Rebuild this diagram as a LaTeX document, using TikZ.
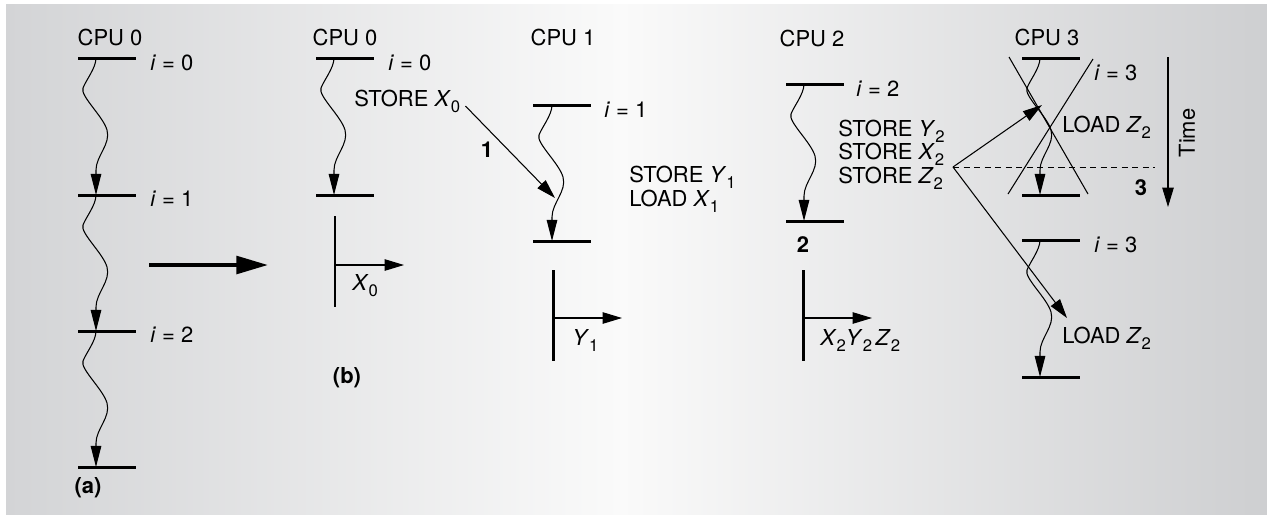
\documentclass[tikz,border=0pt]{standalone}
\usepackage{fontspec}
\setmainfont{TeX Gyre Heros}
\usetikzlibrary{arrows.meta, positioning}

\definecolor{bgedge}{RGB}{211,212,214}
\definecolor{bgmid}{RGB}{250,250,250}
\definecolor{bgright}{RGB}{206,207,209}

\newcommand{\sbs}[1]{\raisebox{-3.5pt}{\fontsize{9.5}{10}\selectfont #1}}
\newcommand{\ieq}[1]{\textit{i}\;=\;#1}

\begin{document}
\begin{tikzpicture}[x=0.02cm, y=-0.02cm,
          txt/.style={font=\fontsize{12.5}{13}\selectfont, inner sep=0pt},
          tag/.style={font=\fontsize{12.5}{13}\selectfont\bfseries, inner sep=0pt},
          bar/.style={line width=1.7pt},
          post/.style={line width=1.7pt},
          arr/.style={-{Triangle[length=11pt, width=6.5pt]}, line width=0.6pt},
          big/.style={-{Triangle[length=18pt, width=10pt]}, line width=2.2pt},
          wig/.style={-{Triangle[length=12pt, width=6pt]}, line width=0.6pt,
                      to path={(\tikztostart) .. controls +(0,10) and +(3,-8) .. ++(-13,30)
                               .. controls +(-3,8) and +(-4,-14) .. ++(24,42)
                               .. controls +(4,14) and +(0,-14) .. ++(-11,40)
                               -- (\tikztotarget)}},
        ]
          \useasboundingbox (0,0) rectangle (1267,515);
          \fill[left color=bgedge, right color=bgmid] (6,4) rectangle (621,514);
          \fill[left color=bgmid, right color=bgright] (620,4) rectangle (1267,514);

          % (a) one CPU
          \node[txt, anchor=base] (cpua) at (110,45) {CPU 0};
          \draw[bar] (78,58) -- ++(58,0);
          \draw[bar] (78,195) -- ++(58,0);
          \draw[bar] (78,331) -- ++(58,0);
          \draw[bar] (78,467) -- ++(58,0);
          \coordinate (a0) at (96,58);
          \coordinate (a1) at (96,195);
          \coordinate (a2) at (96,331);
          \coordinate (a3) at (96,467);
          \draw[wig] (a0) to (a1);
          \draw[wig] (a1) to (a2);
          \draw[wig] (a2) to (a3);
          \node[txt, anchor=base west] (ia0) at (150,70)  {\ieq{0}};
          \node[txt, anchor=base west] (ia1) at (150,206) {\ieq{1}};
          \node[txt, anchor=base west] (ia2) at (150,342) {\ieq{2}};
          \node[tag, anchor=base] (taga) at (88,493) {(a)};

          \coordinate (bs) at (149,265);
          \coordinate (be) at (268,265);
          \draw[big] (bs) -- (be);

          % (b) CPU 0
          \node[txt, anchor=base] (cpu0) at (345,45) {CPU 0};
          \draw[bar] (316,58) -- ++(58,0);
          \draw[bar] (316,195) -- ++(58,0);
          \coordinate (b0) at (334,58);
          \coordinate (b1) at (334,195);
          \draw[wig] (b0) to (b1);
          \node[txt, anchor=base west] (ib0) at (388,70) {\ieq{0}};
          \node[txt, anchor=base west] (sx0) at (354,106) {STORE \textit{X}\sbs{0}};
          \draw[post] (335,216) -- (335,307);
          \coordinate (p0) at (335,265);
          \coordinate (q0) at (404,265);
          \draw[arr] (p0) -- (q0);
          \node[txt, anchor=base west] (x0) at (352,290) {\textit{X}\sbs{0}};
          \node[tag, anchor=base] (tagb) at (347,383) {(b)};

          % CPU 1
          \node[txt, anchor=base] (cpu1) at (563,45) {CPU 1};
          \draw[bar] (533,105) -- ++(58,0);
          \draw[bar] (533,241) -- ++(58,0);
          \coordinate (c0) at (552,105);
          \coordinate (c1) at (552,241);
          \coordinate (hit1) at (555,198);
          \draw[wig] (c0) to (c1);
          \draw[arr, shorten <=4pt] (sx0.east) -- (hit1);
          \node[tag, anchor=base] (one) at (487,157) {1};
          \node[txt, anchor=base west] (i1) at (604,117) {\ieq{1}};
          \node[txt, anchor=base west] (sy1) at (629,182) {STORE \textit{Y}\sbs{1}};
          \node[txt, anchor=base west] (lx1) at (629,206) {LOAD \textit{X}\sbs{1}};
          \draw[post] (553,270) -- (553,361);
          \coordinate (p1) at (553,318);
          \coordinate (q1) at (622,318);
          \draw[arr] (p1) -- (q1);
          \node[txt, anchor=base west] (y1) at (572,345) {\textit{Y}\sbs{1}};

          % CPU 2
          \node[txt, anchor=base] (cpu2) at (812,46) {CPU 2};
          \draw[bar] (786,84) -- ++(58,0);
          \draw[bar] (786,221) -- ++(58,0);
          \coordinate (d0) at (804,84);
          \coordinate (d1) at (804,221);
          \draw[wig] (d0) to (d1);
          \node[txt, anchor=base west] (i2) at (856,96) {\ieq{2}};
          \node[txt, anchor=base west] (sy2) at (838,136) {STORE \textit{Y}\sbs{2}};
          \node[txt, anchor=base west] (sx2) at (838,159) {STORE \textit{X}\sbs{2}};
          \node[txt, anchor=base west] (sz2) at (838,183) {STORE \textit{Z}\sbs{2}};
          \node[tag, anchor=base] (two) at (803,252) {2};
          \draw[post] (803,270) -- (803,361);
          \coordinate (p2) at (803,318);
          \coordinate (q2) at (872,318);
          \draw[arr] (p2) -- (q2);
          \node[txt, anchor=base west] (xyz) at (820,345)
                {\textit{X}\sbs{2}\textit{Y}\sbs{2}\,\textit{Z}\sbs{2}};

          % CPU 3
          \node[txt, anchor=base] (cpu3) at (1047,45) {CPU 3};
          \draw[bar] (1022,58) -- ++(58,0);
          \draw[bar] (1022,195) -- ++(58,0);
          \draw[bar] (1022,240) -- ++(58,0);
          \draw[bar] (1022,377) -- ++(58,0);
          \coordinate (e0) at (1040,58);
          \coordinate (e1) at (1040,195);
          \coordinate (f0) at (1040,240);
          \coordinate (f1) at (1040,377);
          \draw[wig] (e0) to (e1);
          \draw[wig] (f0) to (f1);
          \draw[line width=0.6pt] (1009,57) -- (1088,194);
          \draw[line width=0.6pt] (1093,59) -- (1008,194);
          \node[txt, anchor=base west] (i3a) at (1094,80)  {\ieq{3}};
          \node[txt, anchor=base west] (i3b) at (1094,252) {\ieq{3}};
          \node[txt, anchor=base west] (lz2a) at (1062,132) {LOAD \textit{Z}\sbs{2}};
          \node[txt, anchor=base west] (lz2b) at (1062,343) {LOAD \textit{Z}\sbs{2}};
          \coordinate (zs) at (953,167);
          \coordinate (zu) at (1042,105);
          \coordinate (zd) at (1067,318);
          \coordinate (ze) at (1155,167);
          \draw[line width=0.5pt, dash pattern=on 3.5pt off 2.5pt] (zs) -- (ze);
          \draw[arr] (zs) -- (zu);
          \draw[arr] (zs) -- (zd);
          \node[tag, anchor=base] (three) at (1141,195) {3};

          % time axis
          \coordinate (t0) at (1168,57);
          \coordinate (t1) at (1168,207);
          \draw[arr] (t0) -- (t1);
          \node[txt, rotate=90] (time) at (1187,133) {Time};
        \end{tikzpicture}
\end{document}
